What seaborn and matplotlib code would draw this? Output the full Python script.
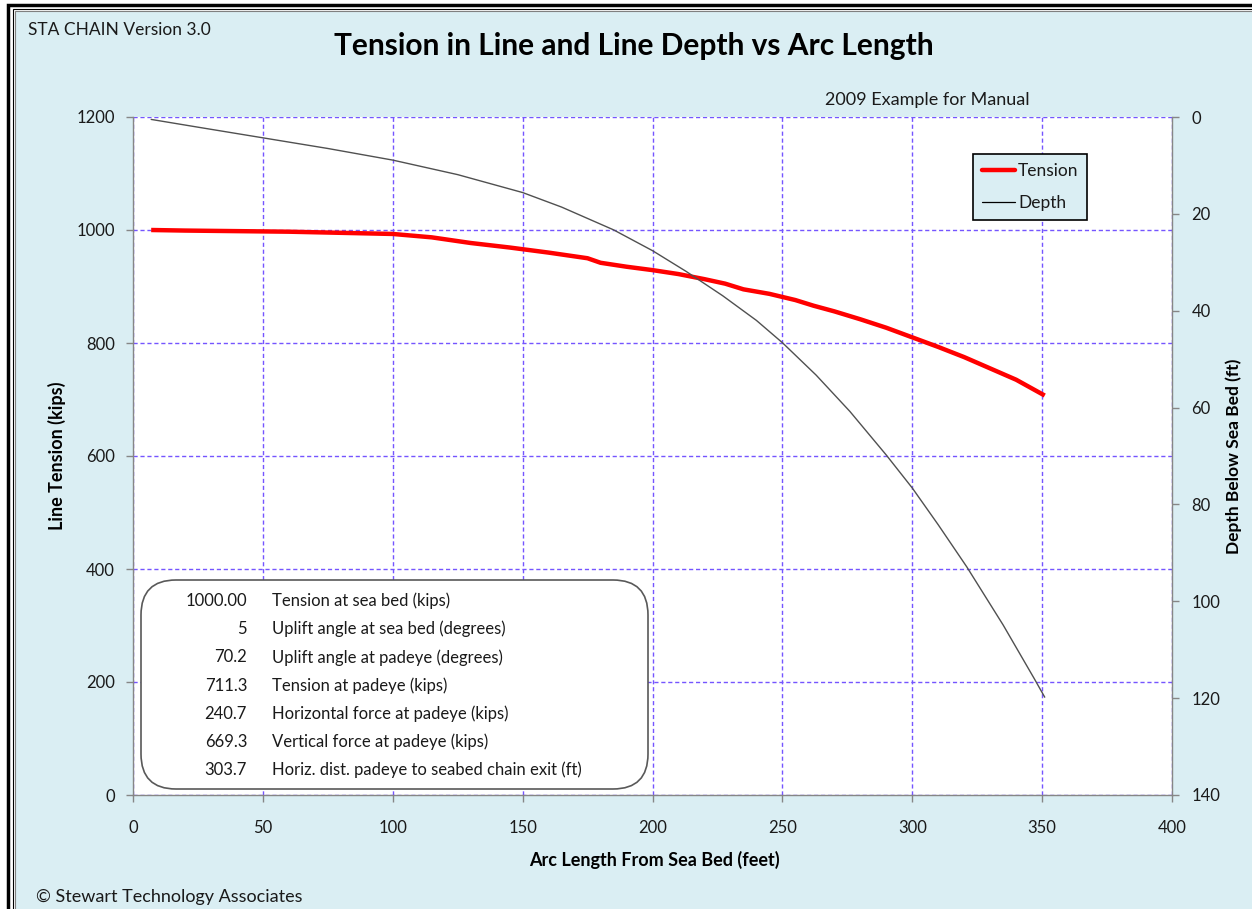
import numpy as np
import pandas as pd
import seaborn as sns
import matplotlib.pyplot as plt
from matplotlib.lines import Line2D
from matplotlib.patches import FancyBboxPatch, Rectangle

# arc length (ft) vs line tension (kips)
arc_tension = [7, 20, 40, 60, 80, 100, 115, 130, 145, 160, 175, 180, 190, 200, 210,
               220, 228, 235, 245, 255, 262, 270, 280, 290, 300, 310, 320, 330, 340, 351]
tension = [1000, 999, 998, 997, 995, 993, 987, 977, 969, 960, 950, 942, 935, 929, 922,
           913, 905, 895, 887, 876, 866, 856, 842, 827, 810, 793, 775, 755, 735, 707]

# arc length (ft) vs depth below sea bed (ft)
arc_depth = [7, 25, 50, 75, 100, 125, 150, 165, 185, 200, 213, 227, 240, 250, 263,
             276, 290, 300, 310, 321, 335, 347, 351]
depth = [0.5, 2.1, 4.3, 6.5, 8.9, 11.9, 15.6, 18.6, 23.3, 27.6, 31.9, 36.9, 42.0, 46.6, 53.3,
         60.8, 69.8, 76.6, 84.2, 92.9, 104.9, 116.0, 119.8]

info_values = ["1000.00", "5", "70.2", "711.3", "240.7", "669.3", "303.7"]
info_labels = ["Tension at sea bed (kips)",
               "Uplift angle at sea bed (degrees)",
               "Uplift angle at padeye (degrees)",
               "Tension at padeye (kips)",
               "Horizontal force at padeye (kips)",
               "Vertical force at padeye (kips)",
               "Horiz. dist. padeye to seabed chain exit (ft)"]

x_ticks = [0, 50, 100, 150, 200, 250, 300, 350, 400]
t_ticks = [0, 200, 400, 600, 800, 1000, 1200]
d_ticks = [0, 20, 40, 60, 80, 100, 120, 140]

df_t = pd.DataFrame({"arc": arc_tension, "tension": tension})
df_d = pd.DataFrame({"arc": arc_depth, "depth": depth})

sns.set_style("white")
plt.rcParams['font.family'] = ['Lato', 'DejaVu Sans']

BG = "#DAEEF3"
GRID = "#7555FF"
SPINE = "#868686"
TXT = "#1a1a1a"
FS = 13

fig = plt.figure(figsize=(12.52, 9.09), dpi=100)
fig.patch.set_facecolor("white")

# chart area frame
fig.patches.append(Rectangle((15 / 1252, -0.1), 1.2, (909 - 11) / 909 + 0.1,
                             transform=fig.transFigure, facecolor=BG, edgecolor="#808080",
                             lw=0.8, zorder=-10))
fig.patches.append(Rectangle((13 / 1252, -0.1), 1.2, (909 - 9) / 909 + 0.1,
                             transform=fig.transFigure, facecolor="none", edgecolor="black",
                             lw=0.8, zorder=-10))
fig.patches.append(Rectangle((8 / 1252, -0.1), 1.2, (909 - 5) / 909 + 0.1,
                             transform=fig.transFigure, facecolor="none", edgecolor="black",
                             lw=2.5, zorder=-10))

ax = fig.add_axes([133 / 1252, 1 - 795 / 909, (1172 - 133) / 1252, (795 - 117) / 909])
ax.set_facecolor("white")
ax2 = ax.twinx()

sns.lineplot(data=df_t, x="arc", y="tension", ax=ax, color="#FF0000", lw=3.2,
             solid_capstyle="butt", zorder=2)
sns.lineplot(data=df_d, x="arc", y="depth", ax=ax2, color="#505050", lw=1.0, zorder=2)

ax.set_xlim(0, 400)
ax.set_ylim(0, 1200)
ax2.set_ylim(140, 0)
ax.set_xticks(x_ticks)
ax.set_yticks(t_ticks)
ax2.set_yticks(d_ticks)

ax.set_axisbelow(True)
ax.grid(True, color=GRID, ls=(0, (3, 2)), lw=1.0)

for a in (ax, ax2):
    for s in a.spines.values():
        s.set_color(SPINE)
        s.set_linewidth(1.0)
    a.spines["top"].set_visible(False)
ax.spines["right"].set_visible(False)
ax2.spines["left"].set_visible(False)
ax2.spines["bottom"].set_visible(False)

ax.tick_params(axis="y", direction="out", length=5, width=1, color=SPINE, pad=8,
               labelsize=12, labelcolor=TXT, left=True)
ax.tick_params(axis="x", direction="out", length=5, width=1, color=SPINE, pad=13,
               labelsize=12, labelcolor=TXT, bottom=True)
ax2.tick_params(axis="y", direction="out", length=5, width=1, color=SPINE, pad=9,
                labelsize=12, labelcolor=TXT, right=True)

ax.set_xlabel("Arc Length From Sea Bed (feet)", fontsize=13, fontweight="bold", color="black")
ax.set_ylabel("Line Tension (kips)", fontsize=13, fontweight="bold", color="black")
ax2.set_ylabel("Depth Below Sea Bed (ft)", fontsize=12.5, fontweight="bold", color="black")
ax.xaxis.set_label_coords((654 - 133) / 1039, (795 - 860) / 678)
ax.xaxis.label.set_va("center")
ax.yaxis.set_label_coords((57 - 133) / 1039, 0.5)
ax.yaxis.label.set_va("center")
ax2.yaxis.set_label_coords((1234 - 133) / 1039, 0.5)
ax2.yaxis.label.set_va("center")

# legend
handles = [Line2D([], [], color="#FF0000", lw=3.2), Line2D([], [], color="black", lw=0.9)]
leg = ax2.legend(handles, ["Tension", "Depth"], loc="upper left",
                 bbox_to_anchor=((973 - 133) / 1039, (795 - 154) / 678), borderaxespad=0,
                 fontsize=12.5, frameon=True, fancybox=False, framealpha=1,
                 facecolor=BG, edgecolor="black", handlelength=1.9, handletextpad=0.2,
                 labelspacing=0.95, borderpad=0.5)
leg.get_frame().set_linewidth(1.2)
for t in leg.get_texts():
    t.set_color(TXT)

# info box
box = FancyBboxPatch((1.41, 9.09 - 7.89), 5.07, 2.09,
                     boxstyle="round,pad=0,rounding_size=0.35",
                     transform=fig.dpi_scale_trans, facecolor="white",
                     edgecolor="#595959", lw=1.2, zorder=3, clip_on=False)
ax.add_patch(box)
for i, (v, lab) in enumerate(zip(info_values, info_labels)):
    yy = (795 - 601) / 678 - i * 28.2 / 678
    ax.text((247 - 133) / 1039, yy, v, transform=ax.transAxes, ha="right", va="center",
            fontsize=12, color=TXT, zorder=4)
    ax.text((272 - 133) / 1039, yy, lab, transform=ax.transAxes, ha="left", va="center",
            fontsize=12, color=TXT, zorder=4)

fig.text(634 / 1252, 1 - 46 / 909, "Tension in Line and Line Depth vs Arc Length",
         ha="center", va="center", fontsize=21.5, fontweight="bold", color="black")
fig.text(28 / 1252, 1 - 30 / 909, "STA CHAIN Version 3.0", ha="left", va="center",
         fontsize=12.5, color=TXT)
fig.text(927 / 1252, 1 - 100 / 909, "2009 Example for Manual", ha="center", va="center",
         fontsize=FS, color=TXT)
fig.text(36 / 1252, 1 - 897 / 909, "\u00a9 Stewart Technology Associates", ha="left",
         va="center", fontsize=FS, color=TXT)

fig.savefig("out.png", dpi=100, facecolor=fig.get_facecolor())
